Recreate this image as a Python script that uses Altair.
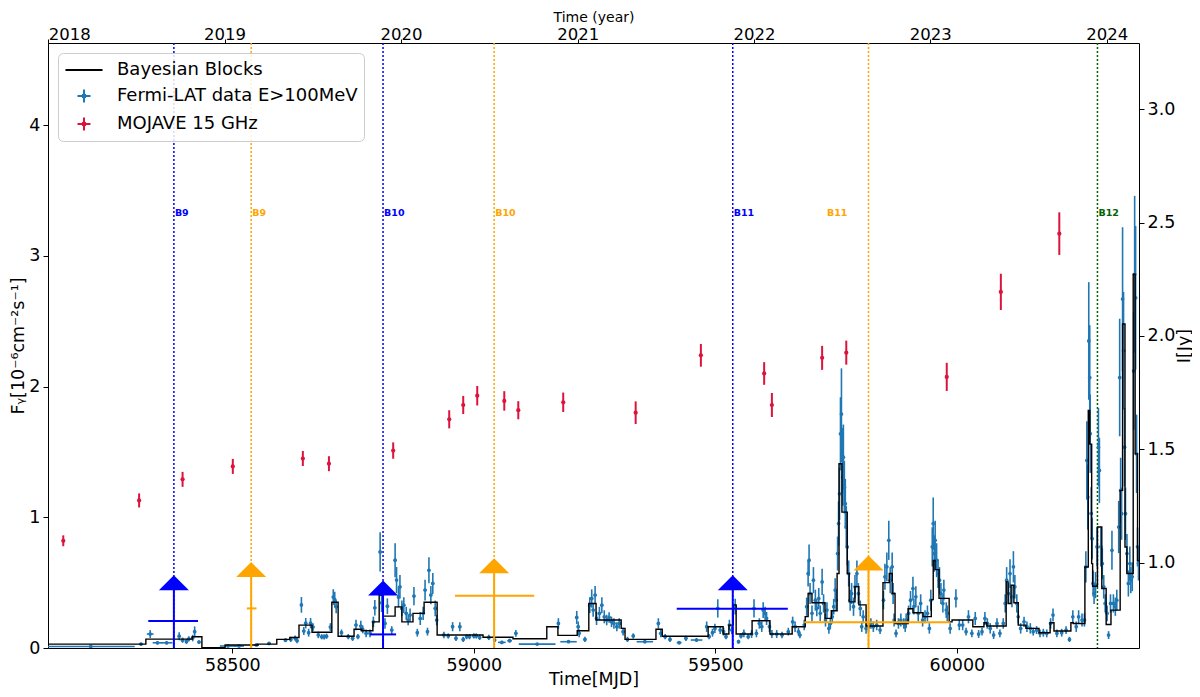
import altair as alt
import pandas as pd

X_DOMAIN = [58118.4, 60377.0]
F_DOMAIN = [0.0, 4.63]
JY_DOMAIN = [0.623, 3.292]

BLUE_DATA = "#1f77b4"
RED_DATA = "#dc143c"

# Bayesian blocks: edges (MJD) and block flux (1e-6 ph cm-2 s-1)
block_edges = [58100, 58321, 58417, 58437, 58485, 58553, 58592, 58619, 58638, 58665,
               58706, 58719, 58752, 58768, 58791, 58804, 58812, 58837, 58851, 58874,
               58897, 58924, 59019, 59081, 59151, 59174, 59214, 59238, 59253, 59305,
               59313, 59377, 59390, 59485, 59516, 59528, 59537, 59543, 59576, 59613,
               59659, 59686, 59692, 59700, 59727, 59740, 59752, 59756, 59762, 59773,
               59777, 59789, 59797, 59812, 59847, 59860, 59866, 59872, 59899, 59909,
               59930, 59947, 59951, 59955, 59963, 59984, 59990, 60033, 60056, 60062,
               60102, 60106, 60112, 60118, 60127, 60143, 60170, 60193, 60201, 60236,
               60241, 60265, 60272, 60275, 60279, 60281, 60291, 60300, 60309, 60319,
               60338, 60343, 60348, 60352, 60365, 60369, 60374, 60390]
block_flux = [0.03, 0.068, 0.086, 0.003, 0.023, 0.03, 0.066, 0.08, 0.175, 0.12,
              0.35, 0.09, 0.143, 0.132, 0.2, 0.405, 0.244, 0.315, 0.2, 0.265,
              0.35, 0.1, 0.082, 0.071, 0.163, 0.097, 0.132, 0.34, 0.214, 0.15,
              0.066, 0.143, 0.09, 0.163, 0.107, 0.175, 0.33, 0.107, 0.208, 0.107,
              0.163, 0.24, 0.417, 0.346, 0.227, 0.285, 0.57, 1.41, 1.04, 0.57,
              0.353, 0.47, 0.33, 0.168, 0.5, 0.57, 0.417, 0.188, 0.3, 0.27,
              0.24, 0.37, 0.67, 0.6, 0.38, 0.2, 0.214, 0.163, 0.193, 0.168,
              0.506, 0.34, 0.48, 0.346, 0.175, 0.15, 0.117, 0.193, 0.13, 0.193,
              0.188, 0.62, 1.817, 1.56, 0.646, 0.473, 0.926, 0.455, 0.18, 0.29,
              1.206, 2.48, 0.773, 0.57, 2.86, 1.486, 0.67]

# Fermi-LAT points: (MJD, flux, flux error, half bin width in days)
fermi = [
    (58207, 0.012, 0.004, 91), (58311, 0.030, 0.010, 3), (58330, 0.107, 0.030, 7),
    (58345, 0.040, 0.012, 10), (58364, 0.040, 0.012, 12), (58390, 0.090, 0.030, 3),
    (58397, 0.060, 0.020, 3), (58405, 0.050, 0.020, 3), (58410, 0.070, 0.020, 3),
    (58418, 0.076, 0.025, 3), (58422, 0.125, 0.040, 3), (58431, 0.045, 0.015, 3),
    (58491, 0.015, 0.005, 17), (58514, 0.015, 0.005, 10), (58550, 0.023, 0.008, 5),
    (58576, 0.035, 0.010, 3), (58610, 0.060, 0.015, 3), (58621, 0.066, 0.020, 3),
    (58630, 0.076, 0.020, 3), (58634, 0.056, 0.020, 3), (58643, 0.330, 0.060, 3),
    (58648, 0.130, 0.030, 3), (58652, 0.190, 0.040, 3), (58658, 0.117, 0.030, 3),
    (58662, 0.190, 0.040, 3), (58667, 0.160, 0.030, 3), (58678, 0.100, 0.025, 3),
    (58685, 0.086, 0.020, 3), (58690, 0.086, 0.020, 3), (58695, 0.090, 0.020, 3),
    (58703, 0.160, 0.030, 3), (58709, 0.390, 0.060, 3), (58712, 0.370, 0.060, 3),
    (58715, 0.315, 0.050, 3), (58726, 0.117, 0.025, 3), (58740, 0.087, 0.020, 3),
    (58749, 0.074, 0.020, 3), (58756, 0.176, 0.040, 3), (58760, 0.087, 0.020, 3),
    (58766, 0.168, 0.040, 3), (58770, 0.142, 0.030, 3), (58777, 0.112, 0.030, 3),
    (58785, 0.112, 0.030, 3), (58792, 0.200, 0.040, 3), (58795, 0.308, 0.060, 3),
    (58806, 0.735, 0.150, 3), (58809, 0.346, 0.070, 3), (58816, 0.188, 0.040, 3),
    (58821, 0.320, 0.060, 3), (58830, 0.137, 0.030, 3), (58837, 0.672, 0.130, 3),
    (58840, 0.520, 0.100, 3), (58844, 0.390, 0.080, 3), (58847, 0.468, 0.090, 3),
    (58851, 0.303, 0.060, 3), (58855, 0.328, 0.060, 3), (58860, 0.265, 0.050, 3),
    (58864, 0.214, 0.040, 3), (58868, 0.252, 0.050, 3), (58876, 0.397, 0.070, 3),
    (58883, 0.117, 0.030, 3), (58889, 0.226, 0.050, 3), (58895, 0.265, 0.050, 3),
    (58899, 0.443, 0.080, 3), (58904, 0.125, 0.030, 3), (58907, 0.595, 0.100, 3),
    (58911, 0.405, 0.070, 3), (58915, 0.494, 0.080, 3), (58920, 0.303, 0.060, 3),
    (58923, 0.214, 0.040, 3), (58938, 0.100, 0.025, 3), (58947, 0.092, 0.020, 3),
    (58956, 0.163, 0.035, 3), (58963, 0.074, 0.020, 3), (58971, 0.163, 0.035, 3),
    (58978, 0.066, 0.020, 3), (58985, 0.087, 0.020, 3), (58991, 0.087, 0.020, 3),
    (59000, 0.092, 0.020, 3), (59005, 0.092, 0.020, 3), (59012, 0.081, 0.020, 3),
    (59031, 0.081, 0.020, 3), (59043, 0.061, 0.015, 3), (59058, 0.043, 0.012, 8),
    (59074, 0.056, 0.015, 5), (59087, 0.112, 0.025, 3), (59131, 0.030, 0.008, 38),
    (59175, 0.188, 0.040, 3), (59196, 0.048, 0.010, 17), (59213, 0.234, 0.050, 3),
    (59216, 0.163, 0.040, 3), (59218, 0.112, 0.030, 3), (59230, 0.066, 0.020, 3),
    (59240, 0.328, 0.060, 3), (59244, 0.379, 0.070, 3), (59247, 0.290, 0.050, 3),
    (59251, 0.405, 0.070, 3), (59254, 0.226, 0.050, 3), (59260, 0.265, 0.050, 3),
    (59265, 0.328, 0.060, 3), (59270, 0.239, 0.050, 3), (59275, 0.214, 0.040, 3),
    (59280, 0.234, 0.040, 3), (59285, 0.200, 0.040, 3), (59290, 0.188, 0.040, 3),
    (59296, 0.163, 0.035, 3), (59301, 0.188, 0.040, 3), (59309, 0.125, 0.030, 3),
    (59318, 0.066, 0.020, 3), (59330, 0.092, 0.020, 3), (59354, 0.048, 0.012, 17),
    (59382, 0.188, 0.040, 3), (59387, 0.112, 0.030, 3), (59396, 0.087, 0.020, 3),
    (59406, 0.066, 0.020, 3), (59425, 0.041, 0.012, 5), (59439, 0.074, 0.020, 3),
    (59461, 0.061, 0.015, 12), (59482, 0.163, 0.040, 3), (59487, 0.087, 0.020, 3),
    (59494, 0.117, 0.030, 3), (59499, 0.150, 0.035, 3), (59505, 0.303, 0.070, 3),
    (59510, 0.137, 0.030, 3), (59517, 0.125, 0.030, 3), (59522, 0.087, 0.020, 3),
    (59529, 0.176, 0.040, 3), (59534, 0.137, 0.030, 3), (59541, 0.316, 0.060, 3),
    (59548, 0.048, 0.015, 3), (59553, 0.092, 0.020, 3), (59559, 0.112, 0.030, 3),
    (59568, 0.087, 0.020, 3), (59575, 0.107, 0.030, 3), (59580, 0.303, 0.070, 3),
    (59585, 0.112, 0.030, 3), (59591, 0.188, 0.040, 3), (59596, 0.163, 0.040, 3),
    (59599, 0.290, 0.060, 3), (59603, 0.265, 0.050, 3), (59606, 0.226, 0.050, 3),
    (59612, 0.163, 0.040, 3), (59617, 0.107, 0.030, 3), (59627, 0.107, 0.030, 3),
    (59638, 0.099, 0.025, 3), (59651, 0.125, 0.030, 3), (59660, 0.200, 0.040, 3),
    (59665, 0.163, 0.040, 3), (59672, 0.125, 0.030, 3), (59675, 0.099, 0.025, 3),
    (59684, 0.176, 0.040, 1.5), (59689, 0.316, 0.070, 1.5), (59692, 0.570, 0.100, 1.5),
    (59694, 0.672, 0.120, 1.5), (59696, 0.417, 0.080, 1.5), (59700, 0.265, 0.060, 1.5),
    (59703, 0.519, 0.100, 1.5), (59707, 0.366, 0.080, 1.5), (59710, 0.303, 0.060, 1.5),
    (59714, 0.379, 0.080, 1.5), (59717, 0.265, 0.060, 1.5), (59721, 0.506, 0.100, 1.5),
    (59724, 0.341, 0.070, 1.5), (59728, 0.214, 0.050, 1.5), (59731, 0.290, 0.060, 1.5),
    (59735, 0.150, 0.040, 1.5), (59738, 0.188, 0.040, 1.5), (59742, 0.239, 0.050, 1.5),
    (59745, 0.316, 0.060, 1.5), (59748, 0.443, 0.090, 1.5), (59750, 0.366, 0.080, 1.5),
    (59753, 0.723, 0.130, 1.5), (59755, 0.952, 0.170, 1.5), (59757, 1.180, 0.200, 1.5),
    (59759, 1.639, 0.280, 1.5), (59761, 1.790, 0.350, 1.5), (59763, 1.435, 0.250, 1.5),
    (59764, 1.308, 0.220, 1.5), (59765, 1.460, 0.250, 1.5), (59767, 1.230, 0.200, 1.5),
    (59769, 1.104, 0.190, 1.5), (59771, 0.926, 0.160, 1.5), (59773, 0.773, 0.140, 1.5),
    (59776, 0.570, 0.100, 1.5), (59779, 0.366, 0.080, 1.5), (59782, 0.417, 0.080, 1.5),
    (59786, 0.316, 0.070, 1.5), (59789, 0.468, 0.090, 1.5), (59793, 0.570, 0.100, 1.5),
    (59796, 0.417, 0.080, 1.5), (59800, 0.303, 0.060, 1.5), (59803, 0.163, 0.040, 1.5),
    (59806, 0.239, 0.050, 1.5), (59812, 0.150, 0.040, 1.5), (59817, 0.163, 0.040, 1.5),
    (59822, 0.188, 0.040, 1.5), (59827, 0.163, 0.040, 1.5), (59834, 0.176, 0.040, 1.5),
    (59841, 0.137, 0.030, 1.5), (59848, 0.366, 0.070, 1.5), (59851, 0.545, 0.100, 1.5),
    (59855, 0.621, 0.110, 1.5), (59859, 0.824, 0.150, 1.5), (59862, 0.519, 0.100, 1.5),
    (59866, 0.621, 0.110, 1.5), (59868, 0.417, 0.080, 1.5), (59870, 0.214, 0.050, 1.5),
    (59874, 0.112, 0.030, 1.5), (59879, 0.188, 0.040, 1.5), (59884, 0.214, 0.050, 1.5),
    (59890, 0.188, 0.040, 1.5), (59895, 0.214, 0.050, 1.5), (59893, 0.163, 0.040, 1.5),
    (59900, 0.265, 0.060, 1.5), (59904, 0.366, 0.070, 1.5), (59909, 0.455, 0.090, 1.5),
    (59911, 0.316, 0.060, 1.5), (59915, 0.392, 0.080, 1.5), (59920, 0.265, 0.060, 1.5),
    (59925, 0.341, 0.070, 1.5), (59929, 0.214, 0.050, 1.5), (59934, 0.239, 0.050, 1.5),
    (59939, 0.265, 0.060, 1.5), (59943, 0.150, 0.040, 1.5), (59946, 0.366, 0.080, 1.5),
    (59949, 0.774, 0.150, 1.5), (59951, 0.952, 0.200, 1.5), (59953, 0.723, 0.140, 1.5),
    (59955, 0.824, 0.150, 1.5), (59958, 0.672, 0.130, 1.5), (59961, 0.570, 0.110, 1.5),
    (59964, 0.519, 0.100, 1.5), (59967, 0.417, 0.080, 1.5), (59971, 0.341, 0.070, 1.5),
    (59973, 0.443, 0.080, 1.5), (59978, 0.290, 0.060, 1.5), (59980, 0.265, 0.060, 1.5),
    (59986, 0.150, 0.040, 1.5), (59998, 0.379, 0.070, 1.5), (60005, 0.176, 0.040, 1.5),
    (60012, 0.176, 0.040, 1.5), (60019, 0.125, 0.030, 1.5), (60024, 0.239, 0.050, 1.5),
    (60031, 0.112, 0.030, 1.5), (60038, 0.226, 0.050, 1.5), (60045, 0.107, 0.030, 1.5),
    (60052, 0.125, 0.030, 1.5), (60058, 0.226, 0.050, 1.5), (60063, 0.188, 0.040, 1.5),
    (60069, 0.150, 0.040, 1.5), (60076, 0.099, 0.030, 1.5), (60083, 0.188, 0.040, 1.5),
    (60089, 0.112, 0.030, 1.5), (60096, 0.188, 0.040, 1.5), (60100, 0.341, 0.070, 1.5),
    (60103, 0.519, 0.100, 1.5), (60107, 0.417, 0.080, 1.5), (60110, 0.570, 0.110, 1.5),
    (60114, 0.392, 0.080, 1.5), (60117, 0.621, 0.120, 1.5), (60120, 0.468, 0.090, 1.5),
    (60124, 0.341, 0.070, 1.5), (60127, 0.239, 0.050, 1.5), (60132, 0.150, 0.040, 1.5),
    (60139, 0.200, 0.040, 1.5), (60145, 0.163, 0.040, 1.5), (60152, 0.150, 0.040, 1.5),
    (60158, 0.125, 0.030, 1.5), (60165, 0.137, 0.030, 1.5), (60172, 0.112, 0.030, 1.5),
    (60179, 0.117, 0.030, 1.5), (60186, 0.112, 0.030, 1.5), (60194, 0.188, 0.040, 1.5),
    (60199, 0.252, 0.050, 1.5), (60207, 0.112, 0.030, 1.5), (60217, 0.117, 0.030, 1.5),
    (60226, 0.137, 0.030, 1.5), (60233, 0.066, 0.020, 1.5), (60240, 0.239, 0.050, 1.5),
    (60247, 0.163, 0.040, 1.5), (60252, 0.239, 0.050, 1.5), (60259, 0.214, 0.050, 1.5),
    (60264, 0.214, 0.050, 1.5), (60267, 0.621, 0.120, 1.5), (60269, 1.435, 0.300, 1.5),
    (60271, 1.155, 0.250, 1.5), (60273, 2.350, 0.450, 1.5), (60275, 2.070, 0.400, 1.5),
    (60276, 1.640, 0.300, 1.5), (60278, 1.030, 0.200, 1.5), (60280, 0.837, 0.160, 1.5),
    (60282, 0.494, 0.100, 1.5), (60284, 0.417, 0.080, 1.5), (60287, 0.481, 0.100, 1.5),
    (60290, 0.774, 0.150, 1.5), (60293, 1.537, 0.300, 1.5), (60295, 1.359, 0.250, 1.5),
    (60298, 0.774, 0.150, 1.5), (60301, 0.646, 0.120, 1.5), (60304, 0.468, 0.090, 1.5),
    (60307, 0.341, 0.070, 1.5), (60311, 0.265, 0.060, 1.5), (60314, 0.099, 0.030, 1.5),
    (60318, 0.341, 0.070, 1.5), (60321, 0.748, 0.150, 1.5), (60324, 0.341, 0.070, 1.5),
    (60328, 0.316, 0.070, 1.5), (60331, 0.366, 0.080, 1.5), (60335, 0.926, 0.200, 1.5),
    (60337, 2.070, 0.450, 1.5), (60339, 1.206, 0.250, 1.5), (60341, 1.028, 0.200, 1.5),
    (60343, 2.670, 0.550, 1.5), (60345, 2.275, 0.450, 1.5), (60347, 1.537, 0.300, 1.5),
    (60349, 1.028, 0.200, 1.5), (60352, 0.723, 0.150, 1.5), (60355, 0.494, 0.100, 1.5),
    (60358, 0.646, 0.130, 1.5), (60360, 0.519, 0.100, 1.5), (60363, 0.545, 0.110, 1.5),
    (60366, 2.120, 0.450, 1.5), (60368, 2.860, 0.600, 1.5), (60370, 2.680, 0.550, 1.5),
    (60372, 1.486, 0.300, 1.5), (60374, 0.774, 0.150, 1.5), (60376, 0.646, 0.130, 1.5),
]

# MOJAVE 15 GHz (Jy)
mojave_mjd = [58150, 58307, 58397, 58501, 58646, 58700, 58833, 58949, 58978, 59007, 59063,
              59092, 59185, 59335, 59470, 59601, 59617, 59721, 59771, 59979, 60091, 60212]
mojave_jy = [1.096, 1.274, 1.367, 1.424, 1.459, 1.436, 1.494, 1.632, 1.695, 1.736, 1.713,
             1.672, 1.707, 1.661, 1.914, 1.834, 1.695, 1.903, 1.926, 1.819, 2.194, 2.451]
mojave_err = [0.024, 0.031, 0.033, 0.033, 0.033, 0.033, 0.036, 0.040, 0.040, 0.043, 0.043,
              0.040, 0.043, 0.050, 0.050, 0.050, 0.053, 0.053, 0.053, 0.062, 0.080, 0.094]

# flare markers (B9..B11)
mark_color = ["#0000ff", "#ffa500", "#0000ff", "#ffa500", "#0000ff", "#ffa500"]
mark_mjd = [58379, 58539, 58812, 59042, 59536, 59817]
mark_top = [0.50, 0.60, 0.46, 0.63, 0.50, 0.65]
mark_bar = [0.206, 0.303, 0.104, 0.40, 0.30, 0.198]
mark_bar_lo = [58326, 58530, 58785, 58961, 59420, 59684]
mark_bar_hi = [58429, 58550, 58839, 59125, 59650, 59986]

# dotted epoch lines and their labels
line_mjd = [58379, 58539, 58812, 59042, 59536, 59817, 60291]
line_color = ["#0000ff", "#ffa500", "#0000ff", "#ffa500", "#0000ff", "#ffa500", "#006400"]
label_text = ["B9", "B9", "B10", "B10", "B11", "B11", "B12"]
label_mjd = [58379, 58539, 58812, 59042, 59536, 59729, 60291]
LABEL_LEVEL = 3.33

year_mjd = [58119, 58484, 58849, 59215, 59580, 59945, 60310]
mjd_ticks = [58500, 59000, 59500, 60000]
flux_ticks = [0, 1, 2, 3, 4]
jy_ticks = [1.0, 1.5, 2.0, 2.5, 3.0]

legend_names = ["Bayesian Blocks", "Fermi-LAT data E>100MeV", "MOJAVE 15 GHz"]
legend_colors = ["black", BLUE_DATA, RED_DATA]
legend_shapes = [
    "M-1.85,0L1.85,0",
    "M-0.65,0L0.65,0M0,-0.65L0,0.65M-0.1,-0.1L0.1,-0.1L0.1,0.1L-0.1,0.1Z",
    "M-0.65,0L0.65,0M0,-0.65L0,0.65M-0.1,-0.1L0.1,-0.1L0.1,0.1L-0.1,0.1Z",
]

# ---------------- data frames ----------------
fdf = pd.DataFrame(fermi, columns=["mjd", "flux", "err", "xerr"])
fdf["lo"] = (fdf["flux"] - fdf["err"]).clip(lower=0)
fdf["hi"] = fdf["flux"] + fdf["err"]
fdf["xlo"] = fdf["mjd"] - fdf["xerr"]
fdf["xhi"] = fdf["mjd"] + fdf["xerr"]

bdf = pd.DataFrame({"mjd": block_edges, "flux": block_flux + [block_flux[-1]]})

mdf = pd.DataFrame({"mjd": mojave_mjd, "jy": mojave_jy, "err": mojave_err})
mdf["lo"] = mdf["jy"] - mdf["err"]
mdf["hi"] = mdf["jy"] + mdf["err"]

kdf = pd.DataFrame({"color": mark_color, "mjd": mark_mjd, "top": mark_top,
                    "bar": mark_bar, "lo": mark_bar_lo, "hi": mark_bar_hi})
kdf["zero"] = 0.0

ldf = pd.DataFrame({"mjd": line_mjd, "color": line_color, "text": label_text,
                    "tmjd": label_mjd})
ldf["level"] = LABEL_LEVEL

gdf = pd.DataFrame({"series": legend_names})

# ---------------- scales / axes ----------------
FONT = "DejaVu Sans"
FS = 17.5
W, H = 1091, 605
xs = alt.Scale(domain=X_DOMAIN, nice=False, zero=False)
ys = alt.Scale(domain=F_DOMAIN, nice=False, zero=False)
js = alt.Scale(domain=JY_DOMAIN, nice=False, zero=False)

common = dict(titleFontWeight="normal", grid=False, domain=False, titleAlign="center")

ax_bottom = alt.Axis(orient="bottom", values=mjd_ticks, format="d", title="Time[MJD]",
                     labelFontSize=FS, tickSize=5, titleFontSize=FS, labelPadding=3,
                     titleX=W / 2, titleY=31, titleBaseline="middle", **common)
ax_left = alt.Axis(orient="left", values=flux_ticks, format="d",
                   title="Fᵧ[10⁻⁶cm⁻²s⁻¹]", titleAngle=270, titleFontSize=FS,
                   labelFontSize=FS, tickSize=5, labelPadding=3, titleX=-30,
                   titleY=H / 2, titleBaseline="middle", **common)
ax_top = alt.Axis(orient="top", values=year_mjd, title="Time (year)",
                  labelExpr="'' + (2018 + round((datum.value - 58119) / 365.25))",
                  labelFontSize=16.5, tickSize=4, labelPadding=0,
                  labelBaseline="alphabetic", titleFontSize=14,
                  titleX=W / 2, titleY=-22, titleBaseline="alphabetic", **common)
ax_right = alt.Axis(orient="right", values=jy_ticks, format=".1f", title="I[Jy]",
                    titleAngle=270, titleFontSize=FS, labelFontSize=FS, tickSize=5,
                    labelPadding=3, titleX=45, titleY=H / 2, titleBaseline="middle",
                    **common)


def X(field):
    return alt.X(f"{field}:Q", scale=xs, axis=ax_bottom)


def Y(field):
    return alt.Y(f"{field}:Q", scale=ys, axis=ax_left)


# ---------------- left (gamma-ray) layers ----------------
vlines = alt.Chart(ldf).mark_rule(strokeDash=[2, 2], strokeWidth=1.5).encode(
    x=X("mjd"), color=alt.Color("color:N", scale=None))

vlabels = alt.Chart(ldf).mark_text(align="left", baseline="middle", dx=1, fontSize=9.5,
                                   fontWeight="bold", font=FONT).encode(
    x=X("tmjd"), y=Y("level"), text="text:N", color=alt.Color("color:N", scale=None))

f_yerr = alt.Chart(fdf).mark_rule(color=BLUE_DATA, strokeWidth=1.6, clip=True).encode(
    x=X("mjd"), y=Y("lo"), y2="hi:Q")
f_xerr = alt.Chart(fdf).mark_rule(color=BLUE_DATA, strokeWidth=1.6, clip=True).encode(
    x=X("xlo"), x2="xhi:Q", y=Y("flux"))
f_pts = alt.Chart(fdf).mark_circle(color=BLUE_DATA, size=14, opacity=1, clip=True).encode(
    x=X("mjd"), y=Y("flux"))

blocks = alt.Chart(bdf).mark_line(color="black", strokeWidth=1.4, interpolate="step-after",
                                  clip=True).encode(x=X("mjd"), y=Y("flux"))

k_vert = alt.Chart(kdf).mark_rule(strokeWidth=2).encode(
    x=X("mjd"), y=Y("zero"), y2="top:Q", color=alt.Color("color:N", scale=None))
k_bar = alt.Chart(kdf).mark_rule(strokeWidth=2).encode(
    x=X("lo"), x2="hi:Q", y=Y("bar"), color=alt.Color("color:N", scale=None))
k_tri = alt.Chart(kdf).mark_point(shape="M-1,0.5L0,-0.5L1,0.5Z", size=900, filled=True,
                                  opacity=1, strokeWidth=0).encode(
    x=X("mjd"), y=Y("top"), color=alt.Color("color:N", scale=None))

leg = alt.Legend(orient="none", legendX=10, legendY=10, title=None,
                 fillColor="rgba(255,255,255,0.85)", strokeColor="#cccccc",
                 cornerRadius=5, padding=6, labelFontSize=18, labelFont=FONT,
                 labelColor="black", labelLimit=500, symbolSize=400,
                 symbolStrokeWidth=2, symbolOffset=9, labelOffset=22, rowPadding=6)
legend_layer = alt.Chart(gdf).transform_filter("datum.series == 'none'").mark_point(
    filled=False, strokeWidth=2).encode(
    x=alt.value(0), y=alt.value(0),
    color=alt.Color("series:N", scale=alt.Scale(domain=legend_names, range=legend_colors),
                    legend=leg, sort=legend_names),
    shape=alt.Shape("series:N", scale=alt.Scale(domain=legend_names, range=legend_shapes),
                    legend=leg, sort=legend_names))

left = alt.layer(vlines, vlabels, f_yerr, f_xerr, f_pts, blocks, k_vert, k_bar, k_tri,
                 legend_layer)

# ---------------- right (radio) layers ----------------
def XR(field):
    return alt.X(f"{field}:Q", scale=xs, axis=ax_top)


def YR(field):
    return alt.Y(f"{field}:Q", scale=js, axis=ax_right)


r_err = alt.Chart(mdf).mark_rule(color=RED_DATA, strokeWidth=2).encode(
    x=XR("mjd"), y=YR("lo"), y2="hi:Q")
r_pts = alt.Chart(mdf).mark_circle(color=RED_DATA, size=18, opacity=1).encode(
    x=XR("mjd"), y=YR("jy"))
right = alt.layer(r_err, r_pts)

chart = alt.layer(left, right).resolve_scale(y="independent").resolve_axis(
    x="independent", y="independent").properties(
    width=W, height=H,
    autosize=alt.AutoSizeParams(type="none"),
    padding={"left": 40, "top": 35, "right": 53, "bottom": 41},
).configure(font=FONT).configure_view(stroke="black", strokeWidth=1).configure_axis(
    tickColor="black", labelColor="black", titleColor="black", labelFont=FONT,
    titleFont=FONT)

chart.save("out.html", embed_options={"renderer": "svg", "actions": False})
